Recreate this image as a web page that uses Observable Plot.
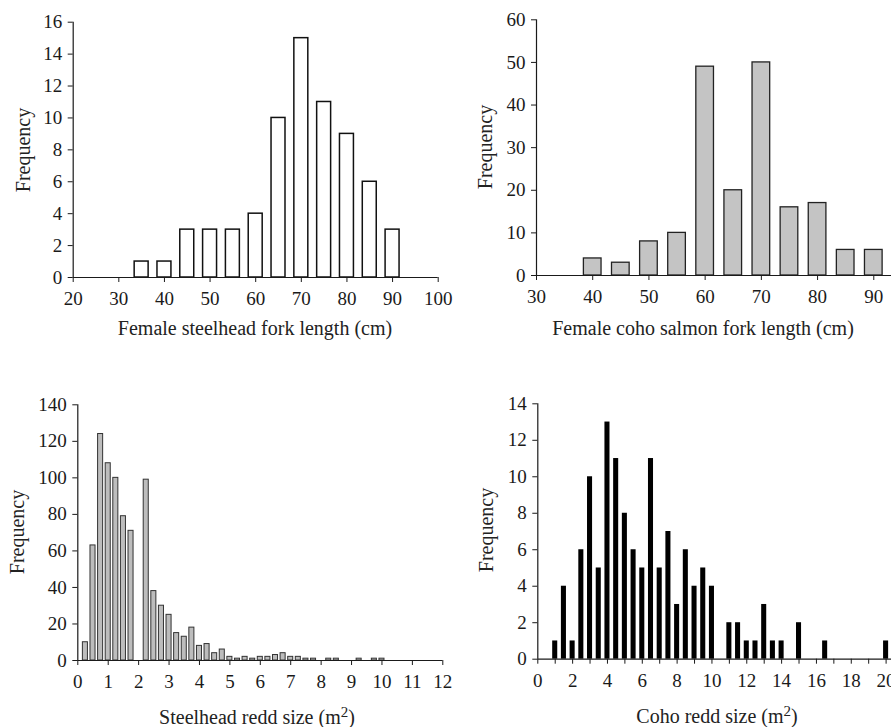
<!DOCTYPE html>
<html><head><meta charset="utf-8">
<script src="https://cdn.jsdelivr.net/npm/d3@7"></script>
<script src="https://cdn.jsdelivr.net/npm/@observablehq/plot@0.6"></script>
<style>
html,body{margin:0;padding:0;background:#fff;overflow:hidden;}
#fig{position:relative;width:891px;height:727px;overflow:hidden;font-family:"Liberation Serif","Times New Roman",serif;color:#222;}
.panel{position:absolute;}
.xt{position:absolute;font-size:20px;white-space:nowrap;transform:translate(-50%,-50%);line-height:1;}
.yt{position:absolute;font-size:20px;white-space:nowrap;transform:translate(-50%,-50%) rotate(-90deg);line-height:1;}
sup{font-size:0.75em;line-height:0;vertical-align:0.45em;}
</style></head><body><div id="fig"></div>
<script>
// ---- Female steelhead fork length (cm) ----
const stLenBins = [35, 40, 45, 50, 55, 60, 65, 70, 75, 80, 85, 90];
const stLenFreq = [1, 1, 3, 3, 3, 4, 10, 15, 11, 9, 6, 3];
const stLenXTicks = [20, 30, 40, 50, 60, 70, 80, 90, 100];
const stLenYTicks = [0, 2, 4, 6, 8, 10, 12, 14, 16];

// ---- Female coho salmon fork length (cm) ----
const coLenBins = [40, 45, 50, 55, 60, 65, 70, 75, 80, 85, 90];
const coLenFreq = [4, 3, 8, 10, 49, 20, 50, 16, 17, 6, 6];
const coLenXTicks = [30, 40, 50, 60, 70, 80, 90];
const coLenYTicks = [0, 10, 20, 30, 40, 50, 60];

// ---- Steelhead redd size (m2) ----
const stReddBins = [0.25, 0.5, 0.75, 1.0, 1.25, 1.5, 1.75, 2.25, 2.5, 2.75, 3.0, 3.25, 3.5, 3.75, 4.0, 4.25, 4.5, 4.75, 5.0, 5.25, 5.5, 5.75, 6.0, 6.25, 6.5, 6.75, 7.0, 7.25, 7.5, 7.75, 8.25, 8.5, 9.25, 9.75, 10.0];
const stReddFreq = [10, 63, 124, 108, 100, 79, 71, 99, 38, 30, 25, 15, 13, 18, 8, 9, 4, 6, 2, 1, 2, 1, 2, 2, 3, 4, 2, 2, 1, 1, 1, 1, 1, 1, 1];
const stReddXTicks = [0, 1, 2, 3, 4, 5, 6, 7, 8, 9, 10, 11, 12];
const stReddYTicks = [0, 20, 40, 60, 80, 100, 120, 140];

// ---- Coho redd size (m2) ----
const coReddBins = [1, 1.5, 2, 2.5, 3, 3.5, 4, 4.5, 5, 5.5, 6, 6.5, 7, 7.5, 8, 8.5, 9, 9.5, 10, 11, 11.5, 12, 12.5, 13, 13.5, 14, 15, 16.5, 20];
const coReddFreq = [1, 4, 1, 6, 10, 5, 13, 11, 8, 6, 5, 11, 5, 7, 3, 6, 4, 5, 4, 2, 2, 1, 1, 3, 1, 1, 2, 1, 1];
const coReddXTicks = [0, 1, 2, 3, 4, 5, 6, 7, 8, 9, 10, 11, 12, 13, 14, 15, 16, 17, 18, 19, 20];
const coReddYTicks = [0, 2, 4, 6, 8, 10, 12, 14];

const fig = document.getElementById("fig");

function panel(o) {
  const data = o.bins.map((b, i) => ({b, f: o.freq[i]}));
  const svg = Plot.plot({
    width: o.width, height: o.height,
    marginLeft: o.mL, marginRight: o.mR, marginTop: o.mT, marginBottom: o.mB,
    style: {fontFamily: '"Liberation Serif","Times New Roman",serif', fontSize: "19px", color: "#1a1a1a", background: "transparent", maxWidth: "none", overflow: "hidden"},
    x: {domain: o.xDomain},
    y: {domain: o.yDomain},
    marks: [
      Plot.rect(data, {x1: d => d.b - o.hw, x2: d => d.b + o.hw, y1: d => 0, y2: "f",
        fill: o.fill, stroke: o.stroke, strokeWidth: o.sw}),
      Plot.ruleY([0], {stroke: "#1a1a1a", strokeWidth: 1.2}),
      Plot.ruleX([o.xDomain[0]], {stroke: "#1a1a1a", strokeWidth: 1.2}),
      Plot.axisX({ticks: o.xTicks, tickSize: 5, tickPadding: 9, label: null,
        tickFormat: o.xFmt || (d => String(d))}),
      Plot.axisY({ticks: o.yTicks, tickSize: 5, tickPadding: 6, label: null, tickFormat: d => String(d)})
    ]
  });
  const div = document.createElement("div");
  div.className = "panel";
  div.style.left = o.left + "px";
  div.style.top = o.top + "px";
  div.appendChild(svg);
  fig.appendChild(div);
}

function label(cls, x, y, html) {
  const d = document.createElement("div");
  d.className = cls;
  d.style.left = x + "px";
  d.style.top = y + "px";
  d.innerHTML = html;
  fig.appendChild(d);
}

panel({left: 0, top: 0, width: 460, height: 320, mL: 72.7, mR: 22.3, mT: 21.7, mB: 43,
  xDomain: [20, 100], yDomain: [0, 16], xTicks: stLenXTicks, yTicks: stLenYTicks,
  bins: stLenBins, freq: stLenFreq, hw: 1.53, fill: "white", stroke: "#111", sw: 1.5});

panel({left: 445, top: 0, width: 446, height: 320, mL: 91, mR: 0, mT: 19.3, mB: 45,
  xDomain: [30, 93.15], yDomain: [0, 60], xTicks: coLenXTicks, yTicks: coLenYTicks,
  bins: coLenBins, freq: coLenFreq, hw: 1.57, fill: "#c4c4c4", stroke: "#222", sw: 1.3});

panel({left: 0, top: 370, width: 460, height: 345, mL: 77.3, mR: 17.7, mT: 34.3, mB: 55,
  xDomain: [0, 12], yDomain: [0, 140], xTicks: stReddXTicks, yTicks: stReddYTicks,
  bins: stReddBins, freq: stReddFreq, hw: 0.083, fill: "#bdbdbd", stroke: "#333", sw: 1});

panel({left: 445, top: 370, width: 446, height: 345, mL: 92.3, mR: 0, mT: 33.3, mB: 56.3,
  xDomain: [0, 20.31], yDomain: [0, 14], xTicks: coReddXTicks, yTicks: coReddYTicks,
  xFmt: d => (d % 2 === 0 ? String(d) : ""),
  bins: coReddBins, freq: coReddFreq, hw: 0.145, fill: "#000", stroke: "none", sw: 0});

label("yt", 23, 150, "Frequency");
label("yt", 485, 147, "Frequency");
label("yt", 17, 532, "Frequency");
label("yt", 486, 530, "Frequency");

label("xt", 255, 328, "Female steelhead fork length (cm)");
label("xt", 703, 328, "Female coho salmon fork length (cm)");
label("xt", 257, 717, "Steelhead redd size (m<sup>2</sup>)");
label("xt", 717, 716, "Coho redd size (m<sup>2</sup>)");
</script>
</body></html>
